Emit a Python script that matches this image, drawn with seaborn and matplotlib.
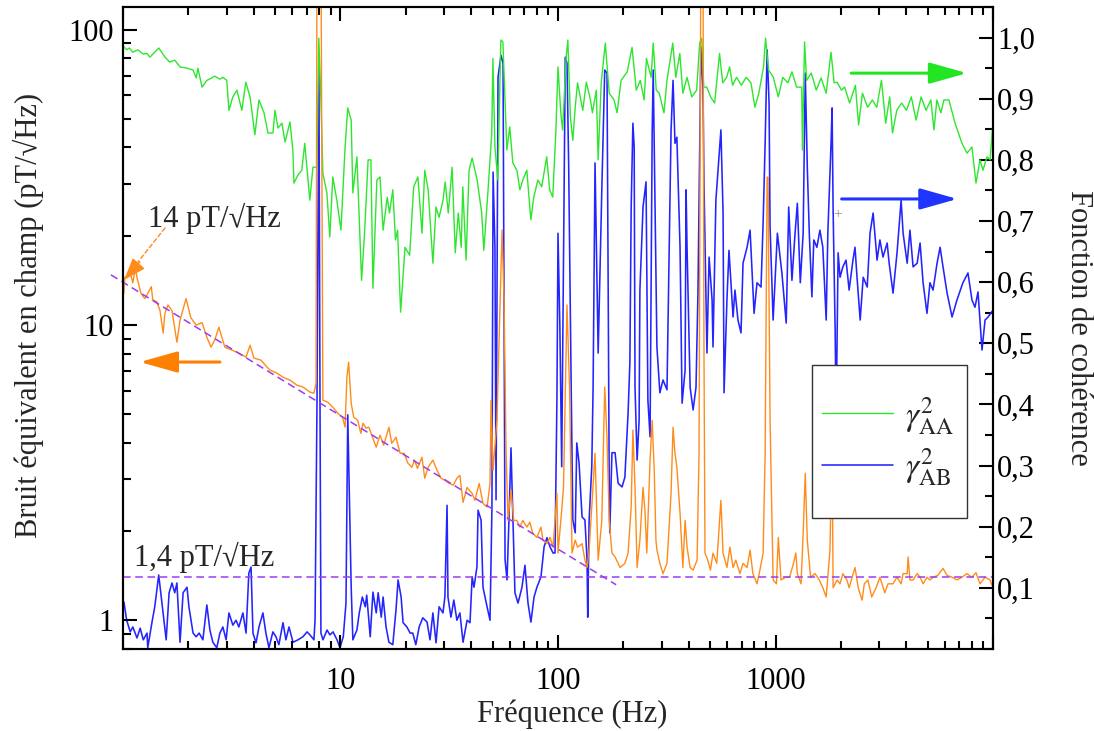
import matplotlib
matplotlib.use("Agg")
import matplotlib.pyplot as plt
import matplotlib.ticker as mticker
from matplotlib.patches import Rectangle
import numpy as np
import seaborn as sns

# ---- values ----
# coherence gamma^2_AA (right axis)
green_freq = [1.01, 1.04, 1.07, 1.11, 1.17, 1.24, 1.29, 1.33, 1.40, 1.46,
              1.56, 1.64, 1.73, 1.83, 1.97, 2.10, 2.17, 2.21, 2.31, 2.43,
              2.56, 2.64, 2.79, 2.88, 3.00, 3.07, 3.20, 3.34, 3.52, 3.67,
              3.84, 4.04, 4.22, 4.45, 4.64, 4.89, 5.00, 5.16, 5.38, 5.56,
              5.86, 6.04, 6.11, 6.37, 6.64, 6.85, 7.23, 7.47, 7.79, 7.95,
              8.13, 8.30, 8.66, 8.93, 9.22, 9.62, 10.05, 10.5, 10.8, 11.2,
              11.4, 11.9, 12.5, 12.9, 13.4, 13.8, 14.1, 14.7, 15.2, 15.7,
              16.4, 16.8, 17.4, 17.9, 18.3, 18.9, 19.8, 20.8, 21.7, 22.7,
              23.7, 24.4, 25.3, 26.6, 27.5, 28.4, 29.6, 30.3, 31.3, 32.6,
              33.7, 34.8, 35.9, 36.5, 37.8, 39.0, 40.3, 42.5, 44.6, 45.6,
              47.6, 49.6, 50.2, 51.3, 52.9, 54.6, 55.8, 58.2, 60.0, 62.0,
              64.7, 66.8, 68.9, 71.9, 75.0, 77.4, 80.8, 84.2, 88.7, 91.6,
              94.6, 97.7, 100, 103, 105, 109, 111, 114, 117, 120,
              123, 130, 135, 141, 144, 150, 153, 158, 165, 172,
              181, 187, 195, 208, 219, 229, 239, 249, 255, 268,
              274, 283, 292, 307, 317, 337, 348, 363, 375, 392,
              412, 434, 448, 458, 468, 483, 503, 525, 553, 572,
              596, 615, 635, 662, 697, 733, 771, 804, 838, 881,
              900, 929, 977, 1030, 1080, 1140, 1190, 1250, 1320, 1330,
              1360, 1390, 1460, 1540, 1620, 1710, 1800, 1860, 1920, 2010,
              2080, 2190, 2330, 2410, 2510, 2650, 2790, 2920, 3070, 3210,
              3350, 3450, 3610, 3800, 4000, 4210, 4430, 4670, 4920, 5180,
              5350, 5520, 5760, 5950, 6270, 6690, 7200, 7590, 8000, 8350,
              8710, 8990, 9380, 9690, 9990]
green_coh = [0.985, 0.980, 0.983, 0.976, 0.980, 0.973, 0.974, 0.968, 0.976, 0.983,
             0.968, 0.960, 0.963, 0.952, 0.950, 0.947, 0.934, 0.950, 0.919, 0.930,
             0.934, 0.937, 0.932, 0.935, 0.930, 0.881, 0.903, 0.914, 0.881, 0.927,
             0.903, 0.841, 0.898, 0.877, 0.844, 0.844, 0.881, 0.852, 0.860, 0.829,
             0.862, 0.816, 0.762, 0.775, 0.783, 0.827, 0.734, 0.788, 0.788, 0.999,
             0.898, 0.778, 0.746, 0.674, 0.772, 0.734, 0.685, 0.821, 0.885, 0.865,
             0.746, 0.805, 0.603, 0.680, 0.800, 0.800, 0.590, 0.767, 0.772, 0.685,
             0.739, 0.713, 0.751, 0.669, 0.685, 0.551, 0.657, 0.644, 0.756, 0.772,
             0.680, 0.783, 0.751, 0.631, 0.723, 0.706, 0.734, 0.764, 0.713, 0.788,
             0.648, 0.713, 0.657, 0.756, 0.636, 0.783, 0.803, 0.767, 0.713, 0.652,
             0.746, 0.844, 0.966, 0.821, 0.767, 0.996, 0.993, 0.816, 0.854, 0.795,
             0.783, 0.751, 0.767, 0.783, 0.702, 0.739, 0.767, 0.756, 0.805, 0.751,
             0.739, 0.844, 0.952, 0.877, 0.849, 0.968, 0.996, 0.870, 0.832, 0.886,
             0.926, 0.881, 0.927, 0.898, 0.877, 0.914, 0.800, 0.926, 0.991, 0.909,
             0.898, 0.877, 0.930, 0.944, 0.984, 0.914, 0.930, 0.898, 0.966, 0.935,
             0.991, 0.914, 0.909, 0.877, 0.930, 0.991, 0.935, 0.974, 0.909, 0.935,
             0.903, 0.914, 0.991, 0.999, 0.919, 0.919, 0.903, 0.893, 0.974, 0.926,
             0.935, 0.952, 0.922, 0.935, 0.922, 0.935, 0.926, 0.886, 0.909, 0.952,
             0.999, 0.947, 0.935, 0.903, 0.935, 0.926, 0.944, 0.919, 0.919, 0.816,
             0.993, 0.930, 0.942, 0.914, 0.934, 0.909, 0.976, 0.926, 0.927, 0.914,
             0.919, 0.893, 0.922, 0.857, 0.909, 0.886, 0.898, 0.886, 0.930, 0.860,
             0.903, 0.844, 0.881, 0.893, 0.881, 0.903, 0.865, 0.903, 0.881, 0.898,
             0.849, 0.898, 0.877, 0.898, 0.898, 0.860, 0.827, 0.811, 0.821, 0.762,
             0.800, 0.783, 0.805, 0.800, 0.860]

# coherence gamma^2_AB (right axis)
blue_freq = [1.01, 1.04, 1.08, 1.11, 1.16, 1.20, 1.24, 1.29, 1.30, 1.36,
             1.40, 1.46, 1.53, 1.58, 1.63, 1.68, 1.73, 1.77, 1.83, 1.89,
             1.97, 2.01, 2.10, 2.17, 2.24, 2.33, 2.43, 2.51, 2.59, 2.70,
             2.79, 2.88, 2.98, 3.07, 3.20, 3.31, 3.41, 3.56, 3.68, 3.79,
             3.88, 3.96, 4.09, 4.22, 4.40, 4.54, 4.69, 4.89, 5.05, 5.21,
             5.44, 5.61, 5.80, 6.05, 6.38, 6.72, 7.02, 7.24, 7.55, 7.64,
             7.80, 7.96, 8.05, 8.13, 8.31, 8.67, 8.95, 9.24, 9.64, 9.95,
             10.3, 10.6, 10.8, 11.2, 11.4, 11.9, 12.2, 12.6, 13.0, 13.2,
             13.7, 14.1, 14.6, 14.9, 15.4, 15.7, 16.2, 16.7, 17.4, 18.0,
             18.4, 19.0, 19.4, 20.2, 20.9, 21.5, 22.2, 23.0, 23.9, 25.0,
             25.8, 26.6, 27.5, 28.4, 29.6, 30.2, 30.9, 31.2, 32.2, 33.2,
             34.3, 35.4, 36.6, 38.2, 39.4, 40.3, 41.1, 42.4, 42.9, 44.3,
             45.2, 47.2, 48.7, 49.7, 50.3, 51.3, 51.9, 53.0, 54.7, 55.9,
             56.5, 57.1, 58.3, 59.5, 60.8, 62.1, 63.4, 65.5, 68.3, 70.5,
             72.8, 75.1, 77.6, 80.0, 83.5, 86.3, 89.0, 91.9, 94.9, 96.9,
             98.9, 100, 102, 104, 108, 110, 112, 115, 117, 120,
             122, 125, 129, 133, 136, 137, 139, 143, 145, 148,
             153, 159, 164, 168, 172, 173, 177, 183, 189, 197,
             203, 210, 214, 217, 221, 224, 226, 231, 236, 238,
             246, 254, 259, 265, 271, 274, 282, 285, 294, 304,
             317, 331, 338, 345, 352, 364, 372, 384, 388, 392,
             405, 418, 431, 440, 454, 464, 469, 484, 495, 511,
             516, 532, 561, 574, 580, 598, 611, 638, 651, 672,
             694, 709, 740, 764, 797, 822, 858, 877, 896, 915,
             934, 944, 975, 1020, 1070, 1120, 1150, 1190, 1230, 1260,
             1300, 1340, 1370, 1400, 1430, 1470, 1500, 1550, 1600, 1650,
             1710, 1740, 1800, 1820, 1840, 1880, 1900, 1940, 1980, 2040,
             2110, 2180, 2270, 2320, 2370, 2450, 2530, 2640, 2720, 2810,
             2930, 3020, 3120, 3260, 3330, 3470, 3620, 3780, 3860, 4030,
             4150, 4290, 4480, 4620, 4770, 4970, 5130, 5300, 5530, 5710,
             5890, 6150, 6480, 6830, 7270, 7670, 8000, 8260, 8530, 8900,
             9190, 9490, 9990]
blue_coh = [0.077, 0.047, 0.028, 0.036, 0.018, 0.034, 0.015, 0.026, 0.002, 0.044,
            0.069, 0.121, 0.059, 0.015, 0.092, 0.108, 0.092, 0.108, 0.011, 0.092,
            0.101, 0.069, 0.026, 0.020, 0.026, 0.015, 0.072, 0.031, 0.011, 0.002,
            0.026, 0.036, 0.015, 0.059, 0.039, 0.047, 0.036, 0.059, 0.026, 0.124,
            0.134, 0.026, 0.010, 0.036, 0.059, 0.026, 0.002, 0.028, 0.020, 0.007,
            0.043, 0.015, 0.036, 0.011, 0.015, 0.020, 0.028, 0.023, 0.015, 0.047,
            0.407, 0.950, 0.407, 0.026, 0.015, 0.031, 0.023, 0.028, 0.015, 0.002,
            0.020, 0.075, 0.383, 0.101, 0.015, 0.031, 0.059, 0.085, 0.069, 0.088,
            0.020, 0.093, 0.059, 0.092, 0.052, 0.085, 0.036, 0.011, 0.007, 0.064,
            0.113, 0.085, 0.043, 0.036, 0.026, 0.026, 0.007, 0.036, 0.051, 0.044,
            0.015, 0.059, 0.010, 0.069, 0.059, 0.085, 0.235, 0.085, 0.052, 0.080,
            0.047, 0.059, 0.011, 0.047, 0.043, 0.118, 0.101, 0.134, 0.227, 0.211,
            0.101, 0.069, 0.047, 0.232, 0.780, 0.657, 0.244, 0.935, 0.971, 0.958,
            0.527, 0.146, 0.113, 0.211, 0.329, 0.211, 0.092, 0.075, 0.101, 0.137,
            0.075, 0.044, 0.085, 0.101, 0.118, 0.167, 0.182, 0.167, 0.157, 0.157,
            0.412, 0.680, 0.527, 0.298, 0.968, 0.958, 0.788, 0.428, 0.211, 0.190,
            0.337, 0.304, 0.216, 0.211, 0.146, 0.052, 0.211, 0.298, 0.428, 0.795,
            0.484, 0.751, 0.947, 0.942, 0.276, 0.190, 0.321, 0.321, 0.271, 0.265,
            0.281, 0.386, 0.468, 0.723, 0.860, 0.821, 0.428, 0.309, 0.374, 0.587,
            0.723, 0.764, 0.407, 0.347, 0.844, 0.947, 0.625, 0.494, 0.419, 0.440,
            0.424, 0.849, 0.930, 0.827, 0.837, 0.657, 0.402, 0.456, 0.751, 0.657,
            0.428, 0.391, 0.428, 0.582, 0.984, 0.919, 0.762, 0.484, 0.641, 0.571,
            0.494, 0.734, 0.849, 0.713, 0.419, 0.571, 0.652, 0.543, 0.587, 0.538,
            0.517, 0.631, 0.657, 0.685, 0.549, 0.599, 0.592, 0.697, 0.827, 0.980,
            0.893, 0.690, 0.538, 0.680, 0.615, 0.533, 0.723, 0.603, 0.680, 0.729,
            0.599, 0.680, 0.942, 0.788, 0.680, 0.576, 0.669, 0.657, 0.685, 0.657,
            0.538, 0.680, 0.827, 0.885, 0.718, 0.522, 0.374, 0.648, 0.608, 0.625,
            0.636, 0.587, 0.636, 0.657, 0.608, 0.538, 0.608, 0.592, 0.680, 0.713,
            0.636, 0.669, 0.641, 0.664, 0.631, 0.582, 0.648, 0.734, 0.680, 0.631,
            0.685, 0.625, 0.631, 0.664, 0.599, 0.549, 0.599, 0.587, 0.631, 0.657,
            0.625, 0.582, 0.543, 0.571, 0.599, 0.615, 0.571, 0.559, 0.584, 0.489,
            0.538, 0.543, 0.554]

# equivalent field noise in pT/sqrt(Hz) (left axis)
noise_freq = [1.01, 1.02, 1.08, 1.11, 1.14, 1.16, 1.21, 1.26, 1.30, 1.35,
              1.37, 1.43, 1.48, 1.53, 1.56, 1.61, 1.68, 1.77, 1.83, 1.95,
              2.05, 2.17, 2.31, 2.43, 2.54, 2.64, 2.76, 2.94, 3.17, 3.41,
              3.68, 3.84, 4.00, 4.31, 4.59, 4.74, 5.10, 5.44, 5.86, 6.31,
              6.72, 7.24, 7.55, 7.72, 7.80, 8.13, 8.30, 8.75, 9.22, 9.72,
              10.2, 10.5, 10.7, 10.9, 11.2, 11.5, 12.0, 12.4, 12.7, 13.1,
              13.5, 14.1, 14.6, 15.2, 15.8, 16.7, 17.2, 18.0, 18.8, 19.6,
              20.4, 21.3, 21.9, 22.6, 23.7, 24.4, 25.3, 26.6, 27.8, 29.0,
              30.2, 31.6, 33.0, 34.3, 35.4, 36.6, 38.2, 40.3, 41.5, 43.4,
              45.2, 47.2, 48.7, 49.2, 50.3, 52.4, 54.2, 55.3, 56.5, 57.7,
              58.9, 60.8, 62.6, 64.7, 66.8, 68.9, 71.9, 74.2, 76.6, 80.0,
              83.5, 85.2, 89.0, 91.9, 94.9, 98.9, 100, 104, 106, 110,
              113, 116, 120, 123, 129, 133, 136, 139, 143, 148,
              153, 159, 164, 168, 172, 177, 183, 193, 203, 210,
              217, 221, 226, 231, 238, 246, 251, 256, 265, 271,
              277, 282, 285, 294, 304, 317, 331, 338, 345, 352,
              364, 375, 384, 392, 405, 418, 436, 445, 454, 464,
              469, 474, 488, 502, 516, 537, 561, 574, 598, 617,
              638, 657, 686, 709, 740, 764, 787, 822, 848, 877,
              896, 915, 924, 944, 975, 1010, 1030, 1060, 1110, 1160,
              1210, 1240, 1260, 1310, 1340, 1370, 1400, 1450, 1520, 1590,
              1650, 1710, 1780, 1820, 1840, 1920, 1980, 2040, 2130, 2180,
              2320, 2400, 2500, 2560, 2660, 2770, 2900, 3020, 3180, 3290,
              3470, 3620, 3780, 3860, 4030, 4070, 4150, 4290, 4480, 4620,
              4770, 4970, 5130, 5300, 5570, 5890, 6150, 6480, 6830, 7200,
              7590, 8000, 8350, 8710, 9190, 9690, 9990]
noise_val = [12.8, 14.5, 15.0, 13.9, 15.7, 14.5, 12.8, 12.3, 12.8, 13.5,
             12.2, 12.0, 11.2, 9.40, 11.0, 11.7, 11.2, 8.75, 10.4, 12.3,
             10.6, 10.0, 10.2, 9.10, 8.42, 8.89, 9.84, 8.42, 8.23, 8.04,
             7.79, 8.55, 7.73, 7.61, 7.21, 7.04, 6.88, 6.66, 6.51, 6.26,
             6.17, 5.93, 5.88, 6.36, 200, 200, 5.57, 5.48, 5.27, 5.03,
             4.88, 4.51, 6.66, 7.49, 5.44, 4.88, 4.76, 4.30, 4.65, 4.48,
             4.51, 4.14, 3.86, 4.24, 3.92, 4.51, 3.98, 4.17, 3.68, 3.68,
             3.41, 3.30, 3.49, 3.27, 3.57, 3.03, 3.30, 3.49, 3.22, 3.03,
             2.98, 2.91, 2.87, 3.03, 3.10, 2.51, 2.82, 2.69, 2.55, 2.91,
             2.49, 2.42, 2.91, 5.57, 3.22, 4.76, 12.2, 21.0, 12.2, 3.77,
             2.18, 2.76, 2.18, 2.18, 2.07, 2.18, 2.07, 2.15, 1.97, 1.91,
             2.07, 1.87, 1.82, 1.91, 1.77, 2.69, 1.69, 2.36, 2.82, 11.7,
             6.17, 1.69, 1.87, 1.77, 1.82, 1.60, 1.51, 1.73, 2.42, 3.68,
             1.60, 2.18, 6.17, 4.17, 2.18, 1.69, 1.64, 1.51, 1.56, 1.69,
             2.42, 4.41, 2.82, 1.51, 1.87, 2.82, 2.36, 1.69, 3.49, 4.76,
             3.22, 1.87, 1.73, 1.56, 1.44, 1.56, 2.69, 4.51, 3.68, 3.30,
             2.31, 1.51, 2.18, 1.77, 1.51, 1.48, 1.60, 3.68, 200, 200,
             8.04, 1.69, 1.60, 1.48, 1.69, 1.56, 2.55, 1.69, 1.51, 1.77,
             1.51, 1.60, 1.44, 1.56, 1.51, 1.73, 1.44, 1.33, 1.48, 1.69,
             3.68, 31.7, 31.7, 4.76, 1.37, 1.33, 1.91, 1.37, 1.40, 1.40,
             1.56, 1.69, 1.44, 1.33, 1.97, 3.15, 1.87, 1.40, 1.44, 1.37,
             1.29, 1.20, 1.73, 4.08, 1.29, 1.37, 1.33, 1.44, 1.37, 1.29,
             1.51, 1.29, 1.17, 1.33, 1.37, 1.20, 1.29, 1.40, 1.24, 1.33,
             1.33, 1.40, 1.33, 1.44, 1.44, 1.64, 1.37, 1.37, 1.44, 1.40,
             1.33, 1.40, 1.37, 1.40, 1.42, 1.50, 1.42, 1.40, 1.37, 1.40,
             1.44, 1.40, 1.45, 1.33, 1.40, 1.37, 1.29]

# guide lines: 1/f^0.45 fit through 14 pT and white noise floor 1.4 pT
fit_freq = [0.88, 185]
fit_val = [14.8, 1.32]
floor_val = 1.4

x_major = [1, 10, 100, 1000, 10000]
x_major_labels = ['', '10', '100', '1000', '']
y_major = [1, 10, 100]
y_major_labels = ['1', '10', '100']
coh_ticks = [0.1, 0.2, 0.3, 0.4, 0.5, 0.6, 0.7, 0.8, 0.9, 1.0]
coh_labels = ['0,1', '0,2', '0,3', '0,4', '0,5', '0,6', '0,7', '0,8', '0,9', '1,0']

assert len(green_freq) == len(green_coh)
assert len(blue_freq) == len(blue_coh)
assert len(noise_freq) == len(noise_val)

GREEN = '#2ee62e'
BLUE = '#2424ff'
ORANGE = '#ff8c1a'
PURPLE = '#9b3cf0'
FS = 22

sns.set_theme(style='ticks')
plt.rcParams['font.family'] = ['Liberation Serif', 'DejaVu Serif']
plt.rcParams['mathtext.fontset'] = 'stix'

fig = plt.figure(figsize=(10.94, 7.31), dpi=100)
ax = fig.add_axes([0.1124, 0.1122, 0.7953, 0.8782])
ax2 = ax.twinx()
# noise curve (left axis) drawn above the coherence curves
ax.set_zorder(ax2.get_zorder() + 1)
ax.patch.set_visible(False)

ax.set_xscale('log')
ax.set_yscale('log')

sns.lineplot(x=blue_freq, y=blue_coh, ax=ax2, color=BLUE, lw=1.15,
             sort=False, estimator=None, legend=False)
sns.lineplot(x=green_freq, y=green_coh, ax=ax2, color=GREEN, lw=1.0,
             sort=False, estimator=None, legend=False)
blue_line, green_line = ax2.lines[0], ax2.lines[1]

sns.lineplot(x=noise_freq, y=noise_val, ax=ax, color=ORANGE, lw=1.0,
             sort=False, estimator=None, legend=False)
sns.lineplot(x=fit_freq, y=fit_val, ax=ax, color=PURPLE, lw=1.1,
             linestyle=(0, (5, 3)), clip_on=False, legend=False)
ax.axhline(floor_val, color=PURPLE, lw=1.1, linestyle=(0, (5, 3)))

# axes limits and ticks
ax.set_xlim(1, 10000)
ax.set_ylim(0.8, 119.5)
ax2.set_ylim(0, 1.05)

ax.xaxis.set_major_locator(mticker.FixedLocator(x_major))
ax.xaxis.set_major_formatter(mticker.FixedFormatter(x_major_labels))
ax.xaxis.set_minor_locator(mticker.LogLocator(base=10, subs=np.arange(2, 10), numticks=20))
ax.xaxis.set_minor_formatter(mticker.NullFormatter())
ax.yaxis.set_major_locator(mticker.FixedLocator(y_major))
ax.yaxis.set_major_formatter(mticker.FixedFormatter(y_major_labels))
ax.yaxis.set_minor_locator(mticker.LogLocator(base=10, subs=np.arange(2, 10), numticks=20))
ax.yaxis.set_minor_formatter(mticker.NullFormatter())
ax2.yaxis.set_major_locator(mticker.FixedLocator(coh_ticks))
ax2.yaxis.set_major_formatter(mticker.FixedFormatter(coh_labels))
ax2.yaxis.set_minor_locator(mticker.MultipleLocator(0.05))

ax.xaxis.set_ticks_position('both')
ax.tick_params(axis='both', which='both', direction='in', width=1.5,
               colors='black', labelsize=FS)
ax.tick_params(axis='both', which='major', length=10)
ax.tick_params(axis='both', which='minor', length=5.5)
ax.tick_params(axis='x', which='major', pad=13)
ax.tick_params(axis='y', which='major', pad=6.5)
ax2.tick_params(axis='y', which='both', direction='in', width=1.5,
                colors='black', labelsize=FS, pad=3)
ax2.tick_params(axis='y', which='major', length=10)
ax2.tick_params(axis='y', which='minor', length=5.5)
for a in (ax, ax2):
    for sp in a.spines.values():
        sp.set_linewidth(1.5)
        sp.set_color('black')

# axis labels
ax.set_xlabel('Fréquence (Hz)', fontsize=FS)
ax.xaxis.set_label_coords(0.516, -0.101)
ax.xaxis.label.set_va('center')
ax.set_ylabel('Bruit équivalent en champ (pT/√Hz)', fontsize=FS)
ax.yaxis.set_label_coords(-0.109, 0.52)
ax.yaxis.label.set_va('center')
ax2.set_ylabel('Fonction de cohérence', fontsize=FS, rotation=270)
ax2.yaxis.set_label_coords(1.098, 0.50)
ax2.yaxis.label.set_va('center')

# annotations
ax.text(0.0287, 0.671, '14 pT/√Hz', fontsize=FS, ha='left', va='center',
        transform=ax.transAxes)
ax.text(0.0126, 0.143, '1,4 pT/√Hz', fontsize=FS, ha='left', va='center',
        transform=ax.transAxes)
ax.annotate('', xy=(0.0172, 0.6028), xytext=(0.0483, 0.6558),
            xycoords='axes fraction', textcoords='axes fraction',
            arrowprops=dict(arrowstyle='-', color=ORANGE, lw=1.0,
                            linestyle=(0, (3, 2)), shrinkA=0, shrinkB=0))
ax.annotate('', xy=(0.0012, 0.5748), xytext=(0.0195, 0.6028),
            xycoords='axes fraction', textcoords='axes fraction',
            arrowprops=dict(arrowstyle='-|>,head_length=1.4,head_width=0.5',
                            color=ORANGE, lw=1.0, mutation_scale=10,
                            shrinkA=0, shrinkB=0))

arrow_style = '-|>,head_length=2.3,head_width=0.65'
ax.annotate('', xy=(0.0195, 0.447), xytext=(0.1115, 0.447),
            xycoords='axes fraction', textcoords='axes fraction',
            arrowprops=dict(arrowstyle=arrow_style, color='#ff8000', lw=2.2,
                            mutation_scale=10, shrinkA=0, shrinkB=0))
ax.annotate('', xy=(0.970, 0.897), xytext=(0.837, 0.897),
            xycoords='axes fraction', textcoords='axes fraction',
            arrowprops=dict(arrowstyle=arrow_style, color='#22e622', lw=2.2,
                            mutation_scale=10, shrinkA=0, shrinkB=0))
ax.annotate('', xy=(0.959, 0.701), xytext=(0.826, 0.701),
            xycoords='axes fraction', textcoords='axes fraction',
            arrowprops=dict(arrowstyle=arrow_style, color='#1f35ff', lw=2.2,
                            mutation_scale=10, shrinkA=0, shrinkB=0))
ax.text(0.821, 0.676, '+', fontsize=11, color='#8a8a8a', ha='center',
        va='center', transform=ax.transAxes)

# legend: white framed box, entries centred inside it
legend_box = Rectangle((0.792, 0.204), 0.178, 0.238, transform=ax.transAxes,
                       facecolor='white', edgecolor='#333333', lw=1.0,
                       zorder=15, clip_on=False)
ax.add_patch(legend_box)
leg = ax.legend(handles=[green_line, blue_line],
                labels=[r'$\gamma^{2}_{\mathrm{AA}}$', r'$\gamma^{2}_{\mathrm{AB}}$'],
                loc='center', bbox_to_anchor=(0.879, 0.323),
                borderaxespad=0, fontsize=24, handlelength=2.15,
                handletextpad=0.35, borderpad=0, labelspacing=0.3,
                frameon=False)
leg.set_zorder(20)

fig.savefig('out.png', dpi=100)
